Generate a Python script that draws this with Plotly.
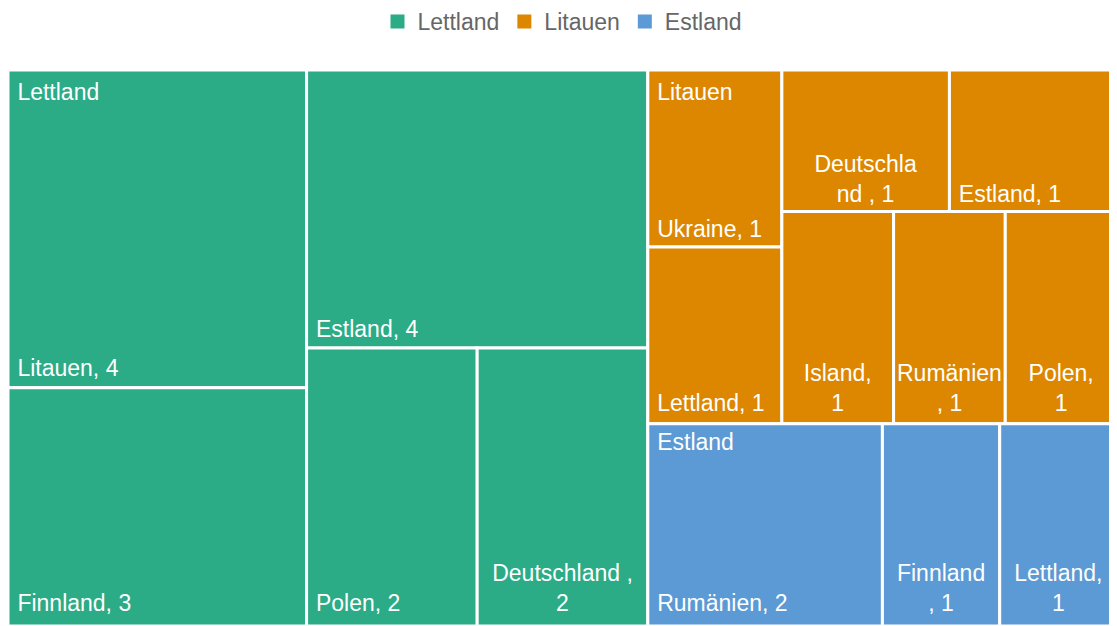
import plotly.graph_objects as go

# ---------------- data ----------------
groups = ["Lettland", "Litauen", "Estland"]
group_colors = ["#2bab86", "#dd8700", "#5b9ad4"]

lettland_names = ["Litauen", "Finnland", "Estland", "Polen", "Deutschland"]
lettland_values = [4, 3, 4, 2, 2]

litauen_names = ["Ukraine", "Lettland", "Deutschland", "Estland", "Island", "Rumänien", "Polen"]
litauen_values = [1, 1, 1, 1, 1, 1, 1]

estland_names = ["Rumänien", "Finnland", "Lettland"]
estland_values = [2, 1, 1]

children = {
    "Lettland": (lettland_names, lettland_values),
    "Litauen": (litauen_names, litauen_values),
    "Estland": (estland_names, estland_values),
}

# how long labels wrap in the reference (text layout only)
wrap = {
    ("Litauen", "Polen"): "after_comma",
    ("Litauen", "Island"): "after_comma",
    ("Litauen", "Deutschland"): 9,
    ("Litauen", "Rumänien"): "before_comma",
    ("Estland", "Finnland"): "before_comma",
    ("Estland", "Lettland"): "after_comma",
    ("Lettland", "Deutschland"): "space_comma",
}

NB = "\u00a0"  # small inner padding in front of left-aligned labels


def leaf_text(group, name, value):
    w = wrap.get((group, name))
    if w == "after_comma":
        return f"{name},<br>{value}"
    if w == "before_comma":
        return f"{name}<br>, {value}"
    if w == "space_comma":
        return f"{name} ,<br>{value}"
    if isinstance(w, int):
        return f"{name[:w]}<br>{name[w:]} , {value}"
    return None


ids, labels, parents, values = [], [], [], []
colors_a, text_left, text_center = [], [], []
group_totals = []
for g, col in zip(groups, group_colors):
    names, vals = children[g]
    ids.append(g)
    labels.append(g)
    parents.append("")
    values.append(sum(vals))
    group_totals.append(sum(vals))
    colors_a.append(col)
    text_left.append("")
    text_center.append("")
    for n, v in zip(names, vals):
        ids.append(f"{g}/{n}")
        labels.append(n)
        parents.append(g)
        values.append(v)
        colors_a.append(col)
        wrapped = leaf_text(g, n, v)
        if wrapped is None:
            text_left.append(f"{NB}{n}, {v}")
            text_center.append("")
        else:
            text_left.append("")
            text_center.append(wrapped)

# the page body has an 8px margin, so the figure fills what is left of the window
W, H = 1109, 618
TOP = 1 - 62 / H
tile_domain = dict(x=[0.0, 1.0], y=[0.0, TOP])
leaf_text_domain = dict(x=[0.0, 1.0], y=[7 / H, TOP])
group_text_domain = dict(x=[0.0, 1.0], y=[0.0, TOP - 6 / H])
font_family = "Liberation Sans, Arial, sans-serif"
FS = 23
clear = "rgba(0,0,0,0)"
common = dict(branchvalues="total", sort=False, pathbar=dict(visible=False),
              tiling=dict(pad=0, packing="squarify"))
tf = dict(family=font_family, size=FS, color="white")

fig = go.Figure()

# coloured tiles with white gaps
fig.add_trace(go.Treemap(
    ids=ids, labels=labels, parents=parents, values=values,
    textinfo="none",
    marker=dict(colors=colors_a, line=dict(color="white", width=3),
                pad=dict(t=0, l=0, r=0, b=0), depthfade=False),
    domain=tile_domain, hoverinfo="label+value", **common,
))

# single-line leaf labels, bottom left
fig.add_trace(go.Treemap(
    ids=ids, labels=labels, parents=parents, values=values,
    text=text_left, texttemplate="%{text}", textposition="bottom left",
    textfont=tf,
    marker=dict(colors=[clear] * len(ids), line=dict(width=0),
                pad=dict(t=0, l=0, r=0, b=0), depthfade=False),
    domain=leaf_text_domain, hoverinfo="skip", **common,
))

# wrapped leaf labels, centred lines at the bottom
fig.add_trace(go.Treemap(
    ids=ids, labels=labels, parents=parents, values=values,
    text=text_center, texttemplate="%{text}", textposition="bottom center",
    textfont=tf,
    marker=dict(colors=[clear] * len(ids), line=dict(width=0),
                pad=dict(t=0, l=0, r=0, b=0), depthfade=False),
    domain=leaf_text_domain, hoverinfo="skip", **common,
))

# group labels, top left of each group
fig.add_trace(go.Treemap(
    ids=groups, labels=groups, parents=[""] * len(groups), values=group_totals,
    text=[f"{NB}{g}" for g in groups], texttemplate="%{text}", textposition="top left",
    textfont=tf,
    marker=dict(colors=[clear] * len(groups), line=dict(width=0),
                pad=dict(t=0, l=0, r=0, b=0), depthfade=False),
    domain=group_text_domain, hoverinfo="skip", **common,
))

# legend entries
for g, col in zip(groups, group_colors):
    fig.add_trace(go.Scatter(
        x=[None], y=[None], mode="markers", name=g,
        marker=dict(symbol="square", size=14, color=col),
        showlegend=True, hoverinfo="skip",
    ))

fig.update_layout(
    width=W, height=H,
    margin=dict(l=0, r=0, t=0, b=0, autoexpand=False),
    paper_bgcolor="white", plot_bgcolor="white",
    xaxis=dict(visible=False), yaxis=dict(visible=False),
    uniformtext=dict(minsize=FS, mode="show"),
    legend=dict(orientation="h", x=0.5, xanchor="center", y=1 + 8 / H, yanchor="top",
                font=dict(family=font_family, size=FS, color="#666666"),
                itemclick=False, itemdoubleclick=False),
    font=dict(family=font_family),
)

fig.write_html("out.html")
